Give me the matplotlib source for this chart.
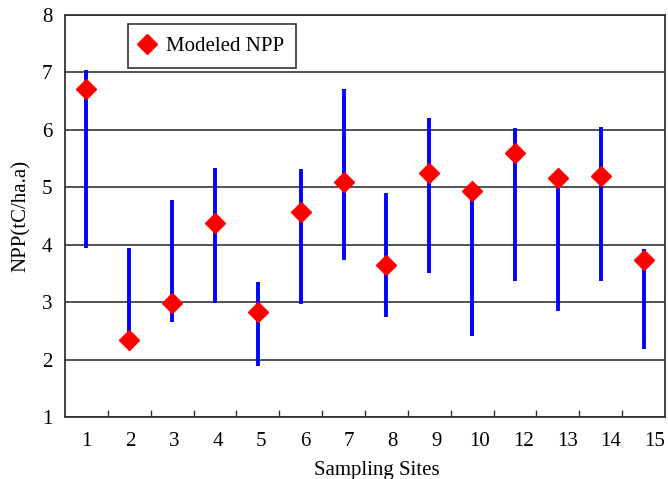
import matplotlib.pyplot as plt
import numpy as np

# Sampling sites (site 11 not present in the figure)
sites = ["1", "2", "3", "4", "5", "6", "7", "8", "9", "10", "12", "13", "14", "15"]

# Modeled NPP and observed range (tC/ha.a)
npp = [6.72, 2.34, 2.99, 4.38, 2.83, 4.57, 5.10, 3.64, 5.25, 4.94, 5.60, 5.17, 5.20, 3.74]
low = [3.94, 2.36, 2.66, 2.99, 1.89, 2.96, 3.74, 2.74, 3.50, 2.41, 3.37, 2.84, 3.37, 2.19]
high = [7.05, 3.94, 4.78, 5.34, 3.35, 5.31, 6.71, 4.90, 6.21, 4.94, 6.03, 5.17, 6.05, 3.92]

plt.rcParams["font.family"] = ["Liberation Serif", "DejaVu Serif"]

fig = plt.figure(figsize=(6.68, 4.79), dpi=100)
ax = fig.add_axes([65 / 668, 62 / 479, 600 / 668, 402 / 479])

x = np.arange(len(sites))

# observed range as thick blue bars
ax.vlines(x, low, high, colors="#0000ff", linewidth=2.8, zorder=3)
ax.plot(x, npp, linestyle="none", marker="D", markersize=10.5,
        color="#ff0000", label="Modeled NPP", zorder=4)

ax.set_xlim(-0.5, len(sites) - 0.5)
ax.set_ylim(1, 8)
ax.set_yticks(range(1, 9))
# labels in the original drift slightly to the right of the category centres
ax.set_xticks(x * 1.02)
ax.set_xticklabels(sites)
ax.set_xticks(np.arange(0.5, len(sites) - 0.5, 1), minor=True)

ax.tick_params(axis="x", which="major", length=0, labelsize=15, pad=11)
ax.tick_params(axis="x", which="minor", length=5, direction="in", width=1, color="#333333")
ax.tick_params(axis="y", length=0, labelsize=15, pad=9)

ax.grid(axis="y", color="#444444", linewidth=1.3)
ax.set_axisbelow(True)
for s in ax.spines.values():
    s.set_color("#333333")
    s.set_linewidth(1.3)

ax.set_xlabel("Sampling Sites", fontsize=15)
ax.xaxis.set_label_coords(0.52, -0.11)
ax.set_ylabel("NPP(tC/ha.a)", fontsize=15, labelpad=8)

leg = ax.legend(loc="upper left", bbox_to_anchor=(0.105, 0.978), fontsize=15,
                frameon=True, fancybox=False, handletextpad=0.6,
                borderpad=0.6, handlelength=0.6, borderaxespad=0)
leg.get_frame().set_edgecolor("#333333")
leg.get_frame().set_linewidth(1.2)
leg.get_frame().set_alpha(1)

fig.savefig("out.png", dpi=100)
